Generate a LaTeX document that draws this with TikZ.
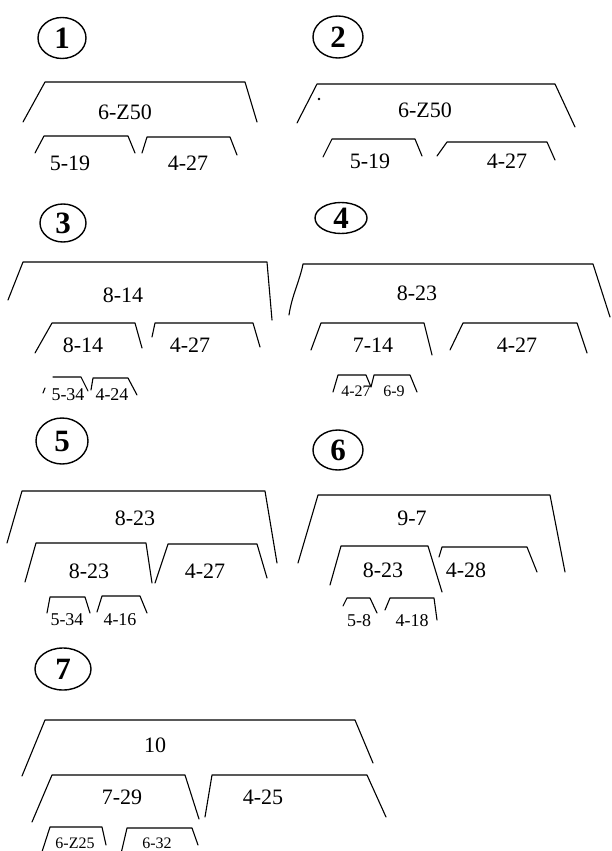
\documentclass[tikz,border=0pt]{standalone}
\usepackage{fontspec}
\setmainfont{Liberation Serif}
\usetikzlibrary{shapes.geometric}
\tikzset{
  brk/.style={line width=1.1pt, line join=round, line cap=round},
  lab/.style={inner sep=0pt, font=\fontsize{22}{26}\selectfont},
  slab/.style={inner sep=0pt, font=\fontsize{18}{21}\selectfont},
  tlab/.style={inner sep=0pt, font=\fontsize{16}{19}\selectfont},
  circ/.style={ellipse, draw, line width=1.4pt, inner sep=0pt, font=\bfseries\fontsize{31}{35}\selectfont}
}
\begin{document}
\begin{tikzpicture}[x=1pt,y=-1pt]
\useasboundingbox (0,0) rectangle (612,851);
\clip (0,0) rectangle (612,851);
% ---------- Panel 1
\node[circ, minimum width=48pt, minimum height=41pt] (c1) at (62,38) {1};
\draw[brk] (23,122) -- (45,82) -- (245,82) -- (257,122);
\node[lab] (p1a) at (125,112) {6-Z50};
\draw[brk] (35,153) -- (44,136) -- (128,136) -- (135,153);
\node[lab] (p1b) at (70,163) {5-19};
\draw[brk] (142,153) -- (147,137) -- (230,137) -- (237,155);
\node[lab] (p1c) at (188,163) {4-27};
% ---------- Panel 2
\node[circ, minimum width=50pt, minimum height=42pt] (c2) at (338,37) {2};
\draw[brk] (297,123) -- (317,84) -- (555,84) -- (575,127);
\fill (319,99) circle (1.3pt);
\node[lab] (p2a) at (425,110) {6-Z50};
\draw[brk] (323,157) -- (332,139) -- (415,139) -- (422,156);
\node[lab] (p2b) at (370,161) {5-19};
\draw[brk] (437,156) -- (447,142) -- (547,142) -- (555,160);
\node[lab] (p2c) at (507,161) {4-27};
% ---------- Panel 3
\node[circ, minimum width=46pt, minimum height=38pt] (c3) at (63,223) {3};
\draw[brk] (8,300) -- (23,262) -- (267,262) -- (272,320);
\node[lab] (p3a) at (123,295) {8-14};
\draw[brk] (35,353) -- (52,323) -- (135,323) -- (142,348);
\node[lab] (p3b) at (83,345) {8-14};
\draw[brk] (152,337) -- (155,323) -- (253,323) -- (260,347);
\node[lab] (p3c) at (190,345) {4-27};
\draw[brk] (43,393) -- (45,388);
\draw[brk] (53,377) -- (81,377) -- (88,391);
\node[slab] (p3d) at (68,395) {5-34};
\draw[brk] (91,390) -- (93,378) -- (128,378) -- (137,395);
\node[slab] (p3e) at (112,395) {4-24};
% ---------- Panel 4
\node[circ, minimum width=52pt, minimum height=31pt] (c4) at (341,218) {4};
\draw[brk] (289,315) .. controls (292,295) and (300,280) .. (303,264) -- (593,264) -- (610,317);
\node[lab] (p4a) at (417,293) {8-23};
\draw[brk] (311,350) -- (321,323) -- (424,323) -- (432,355);
\node[lab] (p4b) at (373,345) {7-14};
\draw[brk] (450,350) -- (463,323) -- (577,323) -- (587,353);
\node[lab] (p4c) at (517,345) {4-27};
\draw[brk] (333,392) -- (338,375) -- (366,375) -- (371,387) -- (374,375) -- (410,375) -- (417,392);
\node[tlab] (p4d) at (356,391) {4-27};
\node[tlab] (p4e) at (394,391) {6-9};
% ---------- Panel 5
\node[circ, minimum width=52pt, minimum height=46pt] (c5) at (62,441) {5};
\draw[brk] (7,543) -- (22,491) -- (265,491) -- (277,563);
\node[lab] (p5a) at (135,518) {8-23};
\draw[brk] (25,582) -- (36,543) -- (146,543) -- (152,583);
\node[lab] (p5b) at (89,571) {8-23};
\draw[brk] (155,583) -- (168,544) -- (257,544) -- (267,578);
\node[lab] (p5c) at (205,571) {4-27};
\draw[brk] (47,613) -- (50,597) -- (85,597) -- (90,613);
\node[slab] (p5d) at (67,620) {5-34};
\draw[brk] (97,612) -- (102,596) -- (140,596) -- (147,613);
\node[slab] (p5e) at (120,620) {4-16};
% ---------- Panel 6
\node[circ, minimum width=50pt, minimum height=40pt] (c6) at (338,450) {6};
\draw[brk] (298,563) -- (318,495) -- (550,495) -- (565,572);
\node[lab] (p6a) at (412,518) {9-7};
\draw[brk] (330,585) -- (341,546) -- (428,546) -- (442,592);
\node[lab] (p6b) at (383,570) {8-23};
\draw[brk] (439,557) -- (442,547) -- (527,547) -- (537,572);
\node[lab] (p6c) at (466,570) {4-28};
\draw[brk] (343,606) -- (347,598) -- (370,598) -- (377,613);
\node[slab] (p6d) at (359,621) {5-8};
\draw[brk] (385,610) -- (390,598) -- (434,598) -- (437,620);
\node[slab] (p6e) at (412,621) {4-18};
% ---------- Panel 7
\node[circ, minimum width=56pt, minimum height=42pt] (c7) at (63,669) {7};
\draw[brk] (22,776) -- (45,720) -- (355,720) -- (373,763);
\node[lab] (p7a) at (155,745) {10};
\draw[brk] (32,822) -- (52,775) -- (185,775) -- (199,819);
\node[lab] (p7b) at (122,797) {7-29};
\draw[brk] (205,817) -- (212,775) -- (367,775) -- (386,817);
\node[lab] (p7c) at (263,797) {4-25};
\draw[brk] (40,858) -- (50,827) -- (102,827) -- (106,845);
\node[tlab] (p7d) at (75,843) {6-Z25};
\draw[brk] (120,858) -- (127,828) -- (192,828) -- (198,845);
\node[tlab] (p7e) at (157,843) {6-32};
\end{tikzpicture}
\end{document}
